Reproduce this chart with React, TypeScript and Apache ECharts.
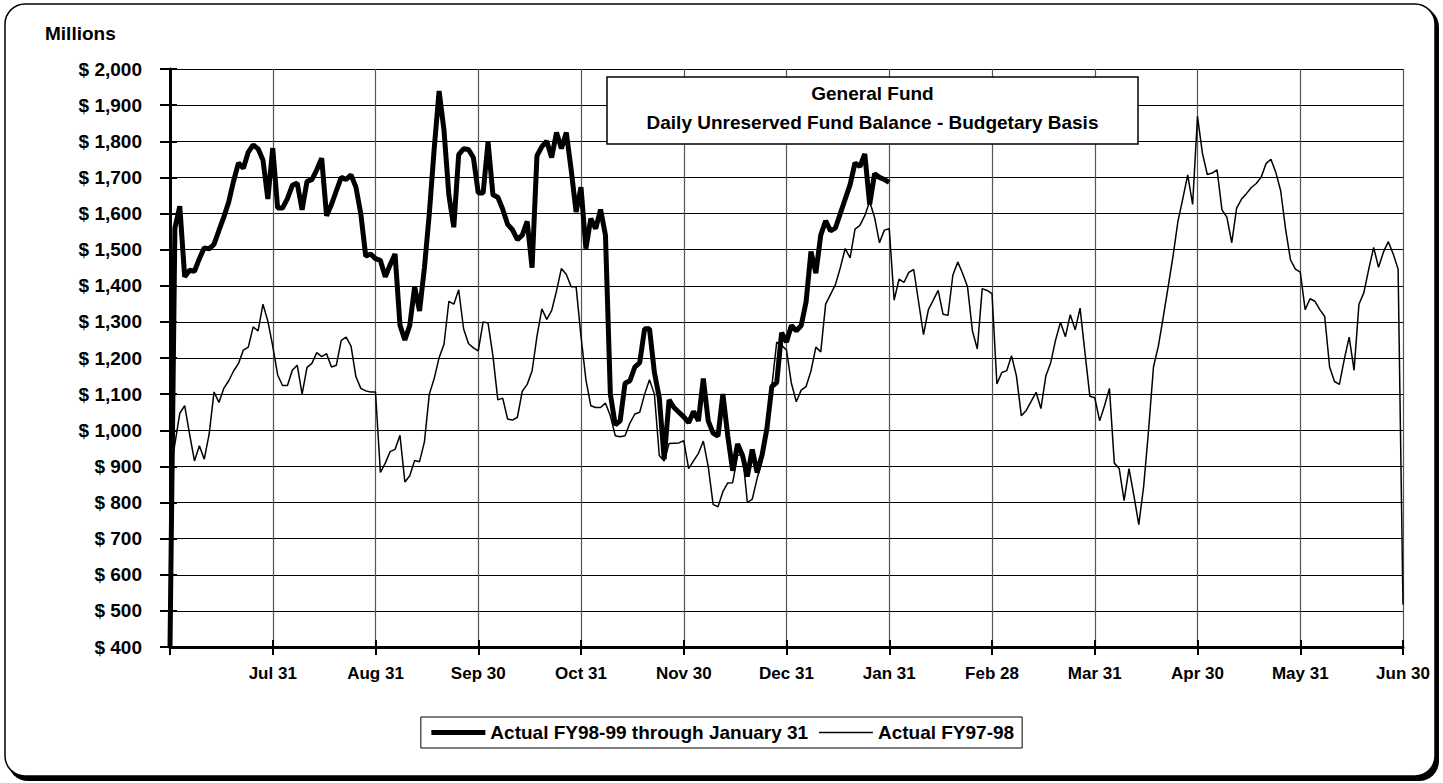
import React, { useEffect, useRef } from "react";
import * as echarts from "echarts";

// ---------- axis definitions ----------
const monthNames = ["Jul", "Aug", "Sep", "Oct", "Nov", "Dec", "Jan", "Feb", "Mar", "Apr", "May", "Jun"];
const monthEndLabels = ["Jul 31", "Aug 31", "Sep 30", "Oct 31", "Nov 30", "Dec 31", "Jan 31", "Feb 28", "Mar 31", "Apr 30", "May 31", "Jun 30"];
const POINTS_PER_MONTH = 21;
const Y_MIN = 400;
const Y_MAX = 2000;
const Y_STEP = 100;

// ---------- Actual FY98-99 through January 31 (millions) ----------
const fy9899Start = [400];
const fy9899Jul = [1560, 1620, 1425, 1443, 1440, 1475, 1505, 1502, 1515, 1553, 1590, 1632, 1690, 1740, 1725, 1770, 1790, 1779, 1748, 1640, 1781];
const fy9899Aug = [1615, 1615, 1641, 1678, 1684, 1610, 1689, 1694, 1721, 1753, 1594, 1625, 1663, 1700, 1694, 1707, 1673, 1599, 1482, 1488, 1475];
const fy9899Sep = [1470, 1425, 1458, 1488, 1291, 1250, 1290, 1397, 1330, 1450, 1600, 1780, 1939, 1830, 1650, 1562, 1763, 1779, 1777, 1755, 1657];
const fy9899Oct = [1657, 1798, 1652, 1645, 1612, 1570, 1555, 1528, 1540, 1578, 1450, 1760, 1785, 1800, 1755, 1824, 1780, 1824, 1720, 1604, 1673];
const fy9899Nov = [1503, 1586, 1558, 1611, 1540, 1100, 1015, 1026, 1130, 1137, 1175, 1187, 1281, 1281, 1160, 1090, 920, 1084, 1063, 1050, 1037];
const fy9899Dec = [1021, 1052, 1026, 1143, 1026, 992, 984, 1100, 984, 888, 962, 931, 872, 947, 883, 931, 1005, 1121, 1132, 1270, 1244];
const fy9899Jan = [1290, 1275, 1290, 1355, 1495, 1435, 1540, 1580, 1552, 1560, 1600, 1640, 1680, 1740, 1730, 1765, 1625, 1710, 1700, 1694, 1686];

// ---------- Actual FY97-98 (millions) ----------
const fy9798Start = [880];
const fy9798Jul = [962, 1047, 1068, 989, 915, 957, 920, 989, 1106, 1077, 1116, 1137, 1164, 1185, 1222, 1230, 1286, 1275, 1349, 1302, 1233];
const fy9798Aug = [1153, 1124, 1124, 1166, 1180, 1100, 1174, 1185, 1215, 1204, 1212, 1175, 1180, 1249, 1258, 1233, 1148, 1116, 1109, 1106, 1106];
const fy9798Sep = [883, 909, 941, 947, 986, 857, 874, 916, 913, 968, 1100, 1143, 1201, 1238, 1357, 1349, 1389, 1281, 1240, 1228, 1220];
const fy9798Oct = [1300, 1297, 1206, 1084, 1089, 1031, 1028, 1036, 1108, 1127, 1164, 1260, 1336, 1307, 1331, 1386, 1448, 1431, 1397, 1397, 1260];
const fy9798Nov = [1140, 1068, 1063, 1063, 1075, 1040, 985, 982, 985, 1020, 1045, 1050, 1100, 1140, 1100, 930, 915, 963, 964, 965, 971];
const fy9798Dec = [894, 915, 936, 970, 900, 795, 788, 830, 854, 855, 930, 935, 800, 809, 867, 915, 1000, 1121, 1244, 1235, 1222];
const fy9798Jan = [1130, 1079, 1111, 1121, 1164, 1230, 1217, 1349, 1376, 1403, 1450, 1503, 1477, 1557, 1567, 1594, 1633, 1589, 1519, 1554, 1558];
const fy9798Feb = [1360, 1418, 1409, 1437, 1445, 1355, 1265, 1334, 1360, 1387, 1321, 1318, 1429, 1466, 1434, 1397, 1275, 1225, 1392, 1387, 1378];
const fy9798Mar = [1128, 1160, 1165, 1206, 1150, 1040, 1055, 1080, 1105, 1060, 1150, 1187, 1250, 1299, 1259, 1320, 1278, 1338, 1215, 1094, 1090];
const fy9798Apr = [1026, 1068, 1116, 909, 894, 805, 894, 819, 739, 845, 1000, 1175, 1233, 1313, 1397, 1482, 1578, 1641, 1707, 1625, 1869];
const fy9798May = [1767, 1708, 1712, 1721, 1610, 1590, 1519, 1615, 1640, 1655, 1672, 1683, 1700, 1738, 1750, 1714, 1663, 1557, 1472, 1446, 1438];
const fy9798Jun = [1334, 1364, 1357, 1334, 1315, 1175, 1135, 1127, 1196, 1258, 1166, 1349, 1381, 1446, 1506, 1451, 1493, 1522, 1488, 1446, 517];

const seriesThickName = "Actual FY98-99 through January 31";
const seriesThinName = "Actual FY97-98";

const FONT = '"Liberation Sans", Arial, Helvetica, sans-serif';

function buildCategories(): string[] {
  const cats: string[] = ["Jul 1"];
  for (let m = 0; m < monthNames.length; m++) {
    for (let j = 1; j <= POINTS_PER_MONTH; j++) {
      cats.push(j === POINTS_PER_MONTH ? monthEndLabels[m] : `${monthNames[m]}-${j}`);
    }
  }
  return cats;
}

export default function App() {
  const ref = useRef<HTMLDivElement>(null);

  useEffect(() => {
    if (!ref.current) return;
    const chart = echarts.init(ref.current, null, { renderer: "svg" });

    const categories = buildCategories();
    const thick = [
      ...fy9899Start, ...fy9899Jul, ...fy9899Aug, ...fy9899Sep, ...fy9899Oct,
      ...fy9899Nov, ...fy9899Dec, ...fy9899Jan,
    ];
    const thin = [
      ...fy9798Start, ...fy9798Jul, ...fy9798Aug, ...fy9798Sep, ...fy9798Oct,
      ...fy9798Nov, ...fy9798Dec, ...fy9798Jan, ...fy9798Feb, ...fy9798Mar,
      ...fy9798Apr, ...fy9798May, ...fy9798Jun,
    ];

    const isMonthEnd = (i: number) => i % POINTS_PER_MONTH === 0 && i > 0;
    const isTick = (i: number) => i % POINTS_PER_MONTH === 0;

    const option: any = {
      animation: false,
      backgroundColor: "transparent",
      grid: { left: 170, right: 40, top: 69, bottom: 136, containLabel: false },
      legend: {
        data: [
          { name: seriesThickName, lineStyle: { width: 5, color: "#000" } },
          { name: seriesThinName, lineStyle: { width: 1.5, color: "#000" } },
        ],
        left: "center",
        top: 717,
        orient: "horizontal",
        borderColor: "#000",
        borderWidth: 1,
        padding: [6, 8],
        itemGap: 10,
        itemWidth: 54,
        itemHeight: 14,
        selectedMode: false,
        itemStyle: { opacity: 0, borderWidth: 0 },
        textStyle: { fontFamily: FONT, fontWeight: "bold", fontSize: 19, color: "#000" },
      },
      xAxis: [
        {
          type: "category",
          data: categories,
          boundaryGap: false,
          axisLine: { show: true, lineStyle: { color: "#000", width: 3 } },
          axisTick: { show: true, interval: (i: number) => isTick(i), length: 8, lineStyle: { color: "#000", width: 2 } },
          axisLabel: {
            show: true,
            interval: (i: number) => isMonthEnd(i),
            margin: 18,
            fontFamily: FONT,
            fontWeight: "bold",
            fontSize: 17,
            color: "#000",
            hideOverlap: false,
          },
          splitLine: { show: true, interval: (i: number) => isMonthEnd(i), lineStyle: { color: "#555", width: 1.2 } },
        },
        {
          type: "category",
          data: categories,
          boundaryGap: false,
          position: "bottom",
          axisLine: { show: false },
          axisTick: { show: true, inside: true, interval: (i: number) => isTick(i), length: 7, lineStyle: { color: "#000", width: 2 } },
          axisLabel: { show: false },
          splitLine: { show: false },
        },
      ],
      yAxis: [
        {
          type: "value",
          min: Y_MIN,
          max: Y_MAX,
          interval: Y_STEP,
          axisLine: { show: true, lineStyle: { color: "#000", width: 3 } },
          axisTick: { show: true, length: 10, lineStyle: { color: "#000", width: 2 } },
          axisLabel: {
            margin: 28,
            fontFamily: FONT,
            fontWeight: "bold",
            fontSize: 19,
            color: "#000",
            formatter: (v: number) => "$ " + v.toLocaleString("en-US"),
          },
          splitLine: { show: true, lineStyle: { color: "#000", width: 1.2 } },
        },
        {
          type: "value",
          min: Y_MIN,
          max: Y_MAX,
          interval: Y_STEP,
          position: "left",
          axisLine: { show: false },
          axisTick: { show: true, inside: true, length: 7, lineStyle: { color: "#000", width: 2 } },
          axisLabel: { show: false },
          splitLine: { show: false },
        },
      ],
      series: [
        {
          name: seriesThinName,
          type: "line",
          data: thin,
          xAxisIndex: 0,
          yAxisIndex: 0,
          showSymbol: false,
          symbol: "none",
          z: 2,
          lineStyle: { color: "#000", width: 1.5 },
          itemStyle: { color: "#000" },
        },
        {
          name: seriesThickName,
          type: "line",
          data: thick,
          xAxisIndex: 0,
          yAxisIndex: 0,
          showSymbol: false,
          symbol: "none",
          z: 3,
          lineStyle: { color: "#000", width: 5 },
          itemStyle: { color: "#000" },
        },
      ],
      graphic: [
        {
          type: "rect",
          z: -20,
          silent: true,
          shape: { x: 8, y: 7, width: 1431, height: 774, r: 20 },
          style: { fill: "#000" },
        },
        {
          type: "rect",
          z: -19,
          silent: true,
          shape: { x: 5, y: 4, width: 1430, height: 772, r: 20 },
          style: { fill: "#fff", stroke: "#000", lineWidth: 1.5 },
        },
        {
          type: "text",
          z: 10,
          x: 45,
          y: 33,
          style: {
            text: "Millions",
            align: "left",
            verticalAlign: "middle",
            fontFamily: FONT,
            fontWeight: "bold",
            fontSize: 19,
            fill: "#000",
          },
        },
        {
          type: "rect",
          z: 50,
          silent: true,
          shape: { x: 607, y: 77, width: 531, height: 67 },
          style: { fill: "#fff", stroke: "#000", lineWidth: 1.5 },
        },
        {
          type: "text",
          z: 51,
          x: 872.5,
          y: 93,
          style: {
            text: "General Fund",
            align: "center",
            verticalAlign: "middle",
            fontFamily: FONT,
            fontWeight: "bold",
            fontSize: 19,
            fill: "#000",
          },
        },
        {
          type: "text",
          z: 51,
          x: 872.5,
          y: 122,
          style: {
            text: "Daily Unreserved Fund Balance - Budgetary Basis",
            align: "center",
            verticalAlign: "middle",
            fontFamily: FONT,
            fontWeight: "bold",
            fontSize: 19,
            fill: "#000",
          },
        },
      ],
    };

    chart.setOption(option);
    return () => {
      chart.dispose();
    };
  }, []);

  return (
    <div
      ref={ref}
      style={{ position: "absolute", left: 0, top: 0, width: 1443, height: 783, background: "#fff" }}
    />
  );
}
